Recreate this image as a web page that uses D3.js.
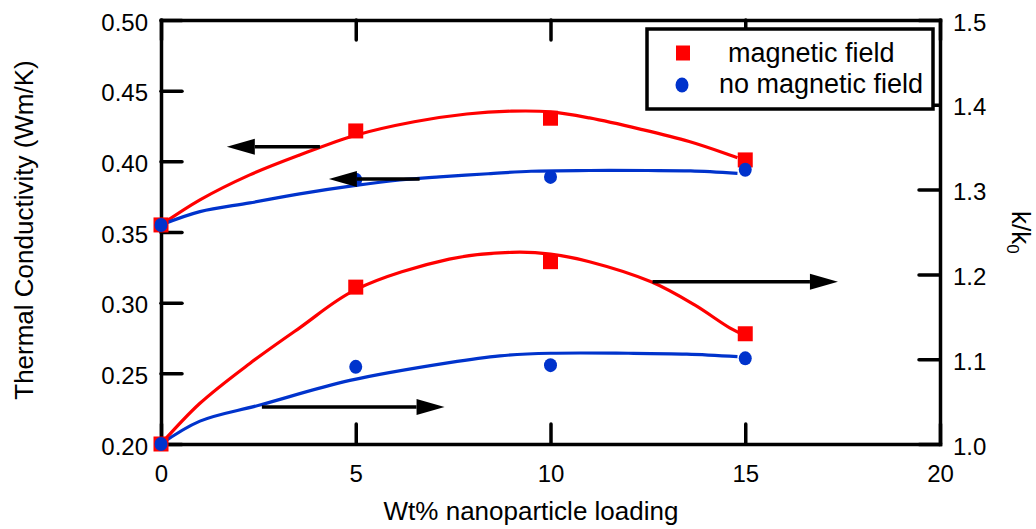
<!DOCTYPE html>
<html>
<head>
<meta charset="utf-8">
<script src="https://cdn.jsdelivr.net/npm/d3@7/dist/d3.min.js"></script>
<style>
  html, body { margin: 0; padding: 0; background: #fff; }
  svg { display: block; }
  text { font-family: "Liberation Sans", Arial, Helvetica, sans-serif; fill: #000; }
</style>
</head>
<body>
<svg id="chart" width="1036" height="529"></svg>
<script>
// Measured loadings (wt%)
const loading = [0, 5, 10, 15];

// Thermal conductivity k (W/m·K), left axis
const kField   = [0.355, 0.4215, 0.4305, 0.401];
const kNoField = [0.355, 0.387, 0.389, 0.394];

// Enhancement ratio k/k0, right axis
const ratioField   = [1.0, 1.185, 1.215, 1.130];
const ratioNoField = [1.0, 1.091, 1.093, 1.101];

// Fitted trend curves, sampled
const fitKFieldX = [0, 1, 2.28, 3.56, 5, 6.5, 7.85, 9, 10, 11, 12.3, 13.56, 14.6, 14.8];
const fitKFieldY = [0.355, 0.3727, 0.3904, 0.4045, 0.4185, 0.428, 0.4335, 0.4355, 0.4350, 0.4307, 0.4228, 0.414, 0.4045, 0.4025];
const fitKNoX    = [0, 1, 2.28, 3.56, 5, 6.13, 7.15, 8.4, 9.5, 11, 12.5, 13.6, 14.8];
const fitKNoY    = [0.355, 0.3644, 0.3706, 0.377, 0.383, 0.3868, 0.3890, 0.3912, 0.3930, 0.3935, 0.3935, 0.3932, 0.3915];
const fitRFieldX = [0, 1, 2.28, 3.56, 5, 7.4, 9, 10, 11, 12.6, 13.7, 14.6, 15];
const fitRFieldY = [1.0, 1.048, 1.095, 1.137, 1.182, 1.218, 1.226, 1.224, 1.215, 1.191, 1.164, 1.137, 1.128];
const fitRNoX    = [0, 1, 2.54, 4.85, 7.4, 8.7, 10, 12, 13.5, 14.8];
const fitRNoY    = [1.0, 1.027, 1.046, 1.075, 1.096, 1.104, 1.107, 1.107, 1.106, 1.103];

// Axis ticks
const xTicks = [0, 5, 10, 15, 20];
const leftTicks = [0.20, 0.25, 0.30, 0.35, 0.40, 0.45, 0.50];
const rightTicks = [1.0, 1.1, 1.2, 1.3, 1.4, 1.5];

// Direction arrows: which axis each curve pair belongs to
const arrowFrom = [4.08, 6.64, 2.59, 12.62];
const arrowTo   = [1.69, 4.31, 7.28, 17.38];
const arrowAt   = [0.4104, 0.3875, 1.0436, 1.1914];
const arrowAxis = ["left", "left", "right", "right"];

const legendLabels = ["magnetic field", "no magnetic field"];

const RED = "#ff0000", BLUE = "#0033cc";

const svg = d3.select("#chart");
const plot = { left: 161, right: 940, top: 20, bottom: 444 };

const x  = d3.scaleLinear().domain([0, 20]).range([plot.left, plot.right]);
const yL = d3.scaleLinear().domain([0.2, 0.5]).range([plot.bottom, plot.top]);
const yR = d3.scaleLinear().domain([1.0, 1.5]).range([plot.bottom, plot.top]);

const tickFont = "24px";

function styleAxis(g) {
  g.selectAll("path.domain").attr("stroke", "#000").attr("stroke-width", 3.5).attr("stroke-linecap", "square");
  g.selectAll(".tick line").attr("stroke", "#000").attr("stroke-width", 3.5).attr("stroke-linecap", "round");
  g.selectAll(".tick text").style("font-size", tickFont).attr("fill", "#000");
}

// Bottom axis
svg.append("g").attr("transform", `translate(0,${plot.bottom})`)
  .call(d3.axisBottom(x).tickValues(xTicks).tickFormat(d3.format("d")).tickSize(-20).tickSizeOuter(0).tickPadding(21))
  .call(styleAxis);

// Top axis
svg.append("g").attr("transform", `translate(0,${plot.top})`)
  .call(d3.axisTop(x).tickValues(xTicks).tickFormat("").tickSize(-20).tickSizeOuter(0))
  .call(styleAxis);

// Left axis
svg.append("g").attr("transform", `translate(${plot.left},0)`)
  .call(d3.axisLeft(yL).tickValues(leftTicks).tickFormat(d3.format(".2f")).tickSize(-21).tickSizeOuter(0).tickPadding(13))
  .call(styleAxis)
  .selectAll(".tick text").attr("dy", "0.42em");

// Right axis
svg.append("g").attr("transform", `translate(${plot.right},0)`)
  .call(d3.axisRight(yR).tickValues(rightTicks).tickFormat(d3.format(".1f")).tickSize(-21).tickSizeOuter(0).tickPadding(13))
  .call(styleAxis)
  .selectAll(".tick text").attr("dy", "0.42em");

// Trend curves
function curve(xs, ys, yScale, color) {
  const pts = xs.map((v, i) => [v, ys[i]]);
  const line = d3.line().x(d => x(d[0])).y(d => yScale(d[1])).curve(d3.curveCatmullRom.alpha(0.5));
  svg.append("path").datum(pts).attr("d", line)
    .attr("fill", "none").attr("stroke", color).attr("stroke-width", 3.2).attr("stroke-linejoin", "round");
}
curve(fitKFieldX, fitKFieldY, yL, RED);
curve(fitKNoX, fitKNoY, yL, BLUE);
curve(fitRFieldX, fitRFieldY, yR, RED);
curve(fitRNoX, fitRNoY, yR, BLUE);

// Markers: squares for field, circles for no field
const SQ = 15;
function squares(vals, yScale) {
  svg.append("g").selectAll("rect").data(loading.map((v, i) => [v, vals[i]])).join("rect")
    .attr("x", d => x(d[0]) - SQ / 2).attr("y", d => yScale(d[1]) - SQ / 2)
    .attr("width", SQ).attr("height", SQ).attr("fill", RED);
}
function circles(vals, yScale) {
  svg.append("g").selectAll("ellipse").data(loading.map((v, i) => [v, vals[i]])).join("ellipse")
    .attr("cx", d => x(d[0])).attr("cy", d => yScale(d[1]))
    .attr("rx", 6.5).attr("ry", 7).attr("fill", BLUE);
}
squares(kField, yL);
squares(ratioField, yR);
circles(kNoField, yL);
circles(ratioNoField, yR);

// Arrows pointing to the axis each pair of curves is read against
const HEAD = 28, HALF = 8;
arrowFrom.forEach((x0v, i) => {
  const ys = arrowAxis[i] === "left" ? yL : yR;
  const y = ys(arrowAt[i]);
  const x0 = x(x0v), x1 = x(arrowTo[i]);
  const dir = Math.sign(x1 - x0);
  const base = x1 - dir * HEAD;
  svg.append("line").attr("x1", x0).attr("y1", y).attr("x2", base).attr("y2", y)
    .attr("stroke", "#000").attr("stroke-width", 3.5);
  svg.append("path")
    .attr("d", `M${x1},${y} L${base},${y - HALF} L${base},${y + HALF} Z`)
    .attr("fill", "#000");
});

// Legend
const lg = svg.append("g");
lg.append("rect").attr("x", 647).attr("y", 29).attr("width", 286).attr("height", 80)
  .attr("fill", "#fff").attr("stroke", "#000").attr("stroke-width", 3.5);
lg.append("rect").attr("x", 683 - SQ / 2 + 0.5).attr("y", 53 - SQ / 2).attr("width", SQ - 1).attr("height", SQ).attr("fill", RED);
lg.append("ellipse").attr("cx", 682).attr("cy", 85).attr("rx", 6.5).attr("ry", 7.5).attr("fill", BLUE);
lg.append("text").attr("x", 728).attr("y", 62).style("font-size", "27px").text(legendLabels[0]);
lg.append("text").attr("x", 719).attr("y", 93).style("font-size", "27px").text(legendLabels[1]);

// Axis titles
svg.append("text").attr("transform", "translate(33,230) rotate(-90)")
  .attr("text-anchor", "middle").style("font-size", "26px").text("Thermal Conductivity (Wm/K)");
svg.append("text").attr("x", 531).attr("y", 520)
  .attr("text-anchor", "middle").style("font-size", "26px").text("Wt% nanoparticle loading");
const rt = svg.append("text").attr("transform", "translate(1012,211) rotate(90)").style("font-size", "26px");
rt.append("tspan").text("k/k");
rt.append("tspan").attr("dy", "0.3em").style("font-size", "17px").text("0");
</script>
</body>
</html>
